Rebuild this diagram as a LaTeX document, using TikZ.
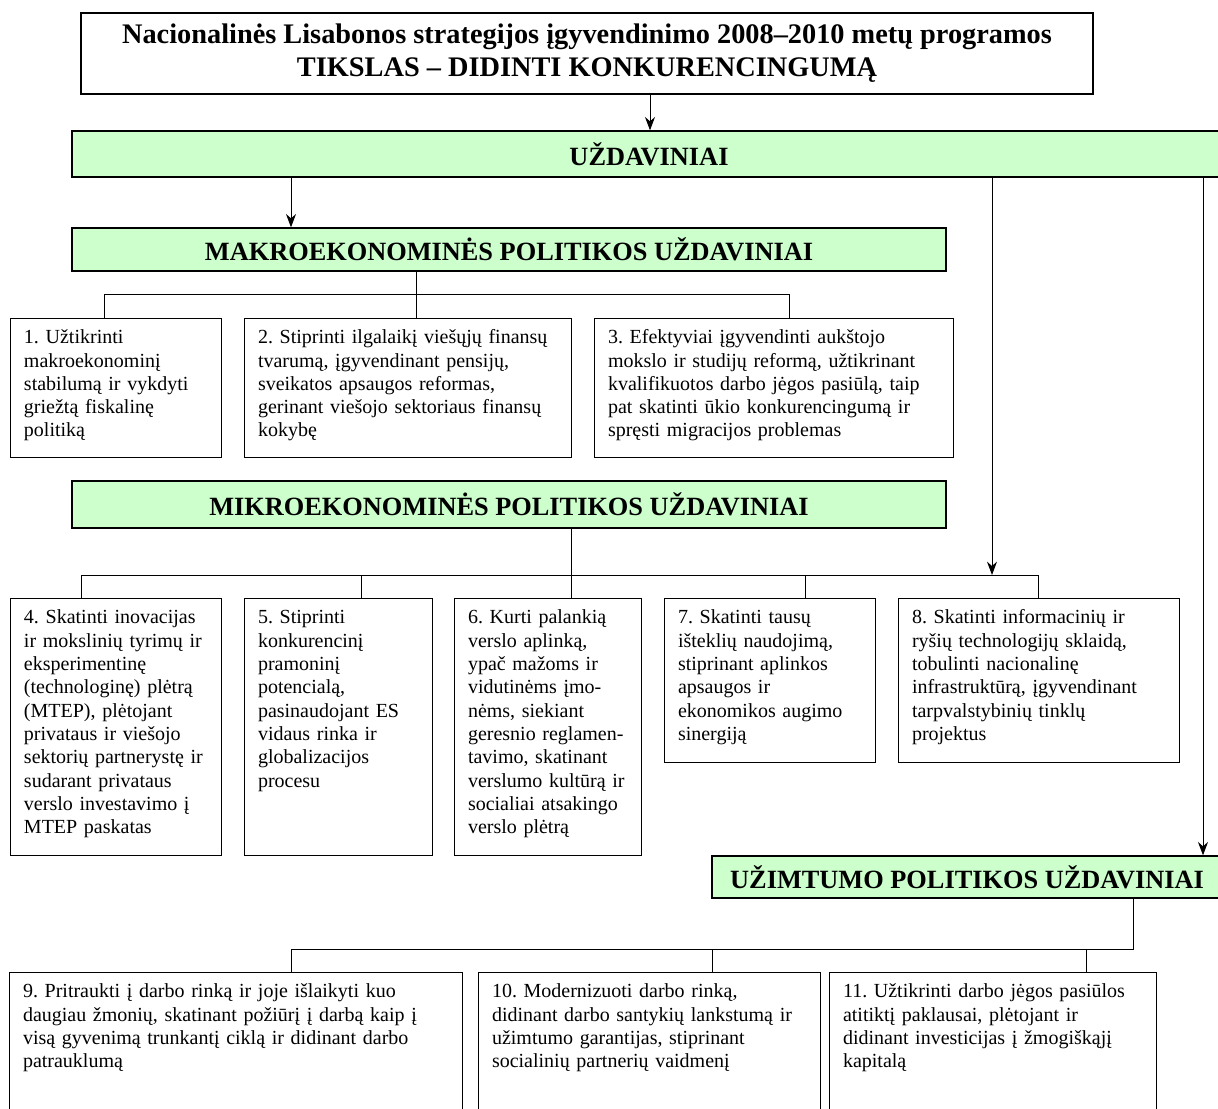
\documentclass[tikz,border=0pt]{standalone}
\usepackage{fontspec}
\setmainfont{Liberation Serif}
\usetikzlibrary{arrows.meta}
\frenchspacing

\definecolor{headgreen}{RGB}{204,255,204}
\newdimen\px \px=0.6pt

\tikzset{
  titlebox/.style={draw, line width=0.8pt, align=center, inner sep=0pt,
    font=\bfseries\fontsize{17}{19.8}\selectfont},
  headbox/.style={draw, line width=0.8pt, fill=headgreen, inner sep=0pt,
    font=\bfseries\fontsize{15.8}{18}\selectfont},
  taskbox/.style={draw, line width=0.8pt, anchor=north west, align=left,
    inner xsep=8pt, inner ysep=6pt, text height=9pt,
    font=\fontsize{12}{14}\selectfont},
  link/.style={line width=0.6pt},
  arrowlink/.style={link, -{Stealth[length=8pt,width=6pt]}}
}

\begin{document}
\begin{tikzpicture}[x=0.6pt, y=-0.6pt]

    % Page frame
    \clip (0,0) rectangle (1218,1109);

    % Goal and the main task bars
    \node[titlebox, minimum width=1012*\px, minimum height=81*\px] (goal) at (587,53.5)
        {Nacionalinės Lisabonos strategijos įgyvendinimo 2008–2010 metų programos\\
         TIKSLAS – DIDINTI KONKURENCINGUMĄ};
    \node[headbox, minimum width=1154*\px, minimum height=46*\px] (tasks) at (649,154) {UŽDAVINIAI};
    \node[headbox, minimum width=874*\px, minimum height=43*\px] (makro) at (509,249.5)
        {MAKROEKONOMINĖS POLITIKOS UŽDAVINIAI};
    \node[headbox, minimum width=874*\px, minimum height=47*\px] (mikro) at (509,504.5)
        {MIKROEKONOMINĖS POLITIKOS UŽDAVINIAI};
    \node[headbox, minimum width=510*\px, minimum height=42*\px] (uzim) at (967,877)
        {UŽIMTUMO POLITIKOS UŽDAVINIAI};

    % Macroeconomic tasks
    \node[taskbox, text width=110.6pt, text depth=62.4pt] (t1) at (10,318)
        {1. Užtikrinti\\ makroekonominį\\ stabilumą ir vykdyti\\ griežtą fiskalinę\\ politiką};
    \node[taskbox, text width=180.2pt, text depth=62.4pt] (t2) at (244,318)
        {2. Stiprinti ilgalaikį viešųjų finansų\\ tvarumą, įgyvendinant pensijų,\\ sveikatos apsaugos reformas,\\ gerinant viešojo sektoriaus finansų\\ kokybę};
    \node[taskbox, text width=199.4pt, text depth=62.4pt] (t3) at (594,318)
        {3. Efektyviai įgyvendinti aukštojo\\ mokslo ir studijų reformą, užtikrinant\\ kvalifikuotos darbo jėgos pasiūlą, taip\\ pat skatinti ūkio konkurencingumą ir\\ spręsti migracijos problemas};

    % Microeconomic tasks
    \node[taskbox, text width=110.6pt, text depth=133.2pt] (t4) at (10,598)
        {4. Skatinti inovacijas\\ ir mokslinių tyrimų ir\\ eksperimentinę\\ (technologinę) plėtrą\\ (MTEP), plėtojant\\ privataus ir viešojo\\ sektorių partnerystę ir\\ sudarant privataus\\ verslo investavimo į\\ MTEP paskatas};
    \node[taskbox, text width=96.8pt, text depth=133.2pt] (t5) at (244,598)
        {5. Stiprinti\\ konkurencinį\\ pramoninį\\ potencialą,\\ pasinaudojant ES\\ vidaus rinka ir\\ globalizacijos\\ procesu};
    \node[taskbox, text width=96.2pt, text depth=133.2pt] (t6) at (454,598)
        {6. Kurti palankią\\ verslo aplinką,\\ ypač mažoms ir\\ vidutinėms įmo-\\ nėms, siekiant\\ geresnio reglamen-\\ tavimo, skatinant\\ verslumo kultūrą ir\\ socialiai atsakingo\\ verslo plėtrą};
    \node[taskbox, text width=110.6pt, text depth=77.4pt] (t7) at (664,598)
        {7. Skatinti tausų\\ išteklių naudojimą,\\ stiprinant aplinkos\\ apsaugos ir\\ ekonomikos augimo\\ sinergiją};
    \node[taskbox, text width=152.6pt, text depth=77.4pt] (t8) at (898,598)
        {8. Skatinti informacinių ir\\ ryšių technologijų sklaidą,\\ tobulinti nacionalinę\\ infrastruktūrą, įgyvendinant\\ tarpvalstybinių tinklų\\ projektus};

    % Employment tasks
    \node[taskbox, text width=255.8pt, text depth=64.8pt] (t9) at (9,972)
        {9. Pritraukti į darbo rinką ir joje išlaikyti kuo\\ daugiau žmonių, skatinant požiūrį į darbą kaip į\\ visą gyvenimą trunkantį ciklą ir didinant darbo\\ patrauklumą};
    \node[taskbox, text width=189.2pt, text depth=64.8pt] (t10) at (478,972)
        {10. Modernizuoti darbo rinką,\\ didinant darbo santykių lankstumą ir\\ užimtumo garantijas, stiprinant\\ socialinių partnerių vaidmenį};
    \node[taskbox, text width=180.2pt, text depth=64.8pt] (t11) at (829,972)
        {11. Užtikrinti darbo jėgos pasiūlos\\ atitiktį paklausai, plėtojant ir\\ didinant investicijas į žmogiškąjį\\ kapitalą};

    % Bus points
    \coordinate (gx) at (650,110);
    \coordinate (mk) at (291,200);
    \coordinate (mikx) at (992,575);
    \coordinate (uzx) at (1203,700);
    \coordinate (mb1) at (104,294);
    \coordinate (mb2) at (416,294);
    \coordinate (mb3) at (789,294);
    \coordinate (mi1) at (81,575);
    \coordinate (mi2) at (361,575);
    \coordinate (mi3) at (571,575);
    \coordinate (mi4) at (805,575);
    \coordinate (mi5) at (1038,575);
    \coordinate (ub0) at (1133,949);
    \coordinate (ub1) at (291,949);
    \coordinate (ub2) at (712,949);
    \coordinate (ub3) at (1086,949);

    % Arrows from the bars
    \draw[arrowlink] (goal.south -| gx) -- (tasks.north -| gx);
    \draw[arrowlink] (tasks.south -| mk) -- (makro.north -| mk);
    \draw[arrowlink] (tasks.south -| mikx) -- (mikx);
    \draw[arrowlink] (tasks.south -| uzx) -- (uzim.north -| uzx);

    % Macroeconomic branch
    \draw[link] (makro.south -| mb2) -- (t2.north -| mb2);
    \draw[link] (t1.north -| mb1) -- (mb1) -- (mb3) -- (t3.north -| mb3);

    % Microeconomic branch
    \draw[link] (mikro.south -| mi3) -- (mi3);
    \draw[link] (t4.north -| mi1) -- (mi1) -- (mi5) -- (t8.north -| mi5);
    \foreach \b/\t in {mi2/t5, mi3/t6, mi4/t7}
        \draw[link] (\b) -- (\t.north -| \b);

    % Employment branch
    \draw[link] (uzim.south -| ub0) -- (ub0) -- (ub1) -- (t9.north -| ub1);
    \draw[link] (ub2) -- (t10.north -| ub2);
    \draw[link] (ub3) -- (t11.north -| ub3);

\end{tikzpicture}
\end{document}
